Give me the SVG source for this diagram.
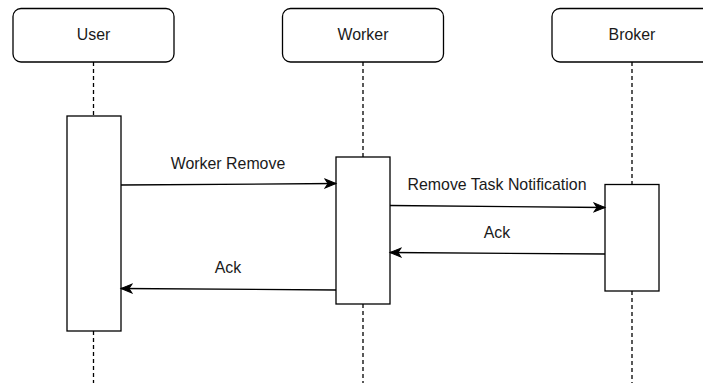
<svg xmlns="http://www.w3.org/2000/svg" width="703" height="383" viewBox="0 0 703 383">
  <style>
    .head { fill: #ffffff; stroke: #000000; stroke-width: 1.3; }
    .act { fill: #ffffff; stroke: #000000; stroke-width: 1.3; }
    .life { stroke: #000000; stroke-width: 1.3; stroke-dasharray: 4 3; fill: none; }
    .msg { stroke: #000000; stroke-width: 1.3; fill: none; marker-end: url(#arrow); }
    .lbl { font-family: "Liberation Sans", Arial, sans-serif; font-size: 15.9px; fill: #1a1a1a; text-anchor: middle; }
  </style>
  <defs>
    <marker id="arrow" markerUnits="userSpaceOnUse" markerWidth="14" markerHeight="12" refX="12" refY="5" orient="auto" viewBox="0 0 14 10">
      <path d="M1,0.5 L12,5 L1,9.5 L4,5 Z" fill="#000000" stroke="#000000" stroke-width="1"/>
    </marker>
  </defs>

  <rect x="0" y="0" width="703" height="383" fill="#ffffff"/>

  <!-- lifelines -->
  <g id="lifelines">
    <path class="life" d="M93.5,62 V116 M93.5,331 V383"/>
    <path class="life" d="M363,62 V157 M363,304 V383"/>
    <path class="life" d="M632,62 V184 M632,291 V383"/>
  </g>

  <!-- participant: User -->
  <g id="user">
    <rect class="head" x="13" y="8.5" width="161" height="53.5" rx="8" ry="8"/>
    <text class="lbl" x="93.5" y="40">User</text>
    <rect class="act" x="67" y="116" width="54" height="215"/>
  </g>

  <!-- participant: Worker -->
  <g id="worker">
    <rect class="head" x="282.5" y="8.5" width="161" height="53.5" rx="8" ry="8"/>
    <text class="lbl" x="363" y="40">Worker</text>
    <rect class="act" x="336" y="157" width="54" height="147"/>
  </g>

  <!-- participant: Broker -->
  <g id="broker">
    <rect class="head" x="552" y="8.5" width="161" height="53.5" rx="8" ry="8"/>
    <text class="lbl" x="632" y="40">Broker</text>
    <rect class="act" x="605" y="184.5" width="54" height="106.5"/>
  </g>

  <!-- messages -->
  <g id="connectors">
    <path class="msg" d="M121,185 L336,183.5"/>
    <text class="lbl" x="228" y="169">Worker Remove</text>

    <path class="msg" d="M390,205.5 L605,207.5"/>
    <text class="lbl" x="497" y="190">Remove Task Notification</text>

    <path class="msg" d="M605,254 L390,252.5"/>
    <text class="lbl" x="497" y="238">Ack</text>

    <path class="msg" d="M336,290 L121,288.5"/>
    <text class="lbl" x="228" y="273">Ack</text>
  </g>
</svg>
